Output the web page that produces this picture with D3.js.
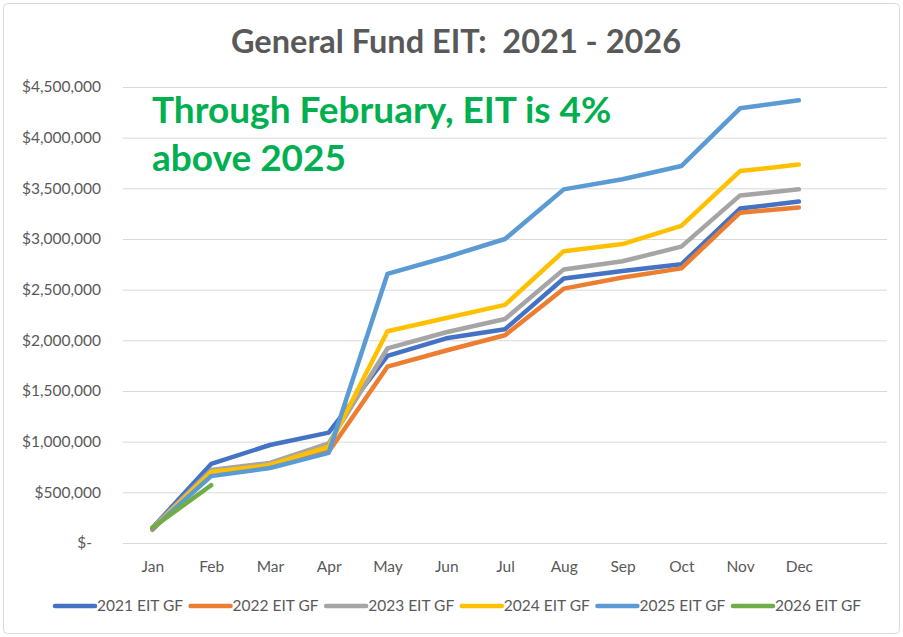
<!DOCTYPE html>
<html>
<head>
    <meta charset="UTF-8" />
    <script src="https://d3js.org/d3.v7.min.js"></script>
    <style>
        body { margin: 0; background: white; }
        text { font-family: Lato, "Open Sans", sans-serif; white-space: pre; }
        .gridlines line { stroke: #d9d9d9; }
        .gridlines .domain { stroke: none; }
        .axis text { fill: #595959; font-size: 15.5px; }
        .axis .domain, .axis line { stroke: none; }
    </style>
</head>
<body>
    <svg height="637" width="903" id="svg1"></svg>
    <script>
        // data
        const months = ["Jan","Feb","Mar","Apr","May","Jun","Jul","Aug","Sep","Oct","Nov","Dec"];
        const slots = months.concat([""]);   // excel left one empty slot at the right
        const years = ["2021 EIT GF","2022 EIT GF","2023 EIT GF","2024 EIT GF","2025 EIT GF","2026 EIT GF"];
        const colors = ["#4472C4","#ED7D31","#A5A5A5","#FFC000","#5B9BD5","#70AD47"];
        const eit2021 = [148000, 780000, 967000, 1089000, 1846000, 2020000, 2110000, 2610000, 2685000, 2750000, 3300000, 3370000];
        const eit2022 = [130000, 700000, 780000, 900000, 1740000, 1900000, 2050000, 2510000, 2620000, 2710000, 3260000, 3310000];
        const eit2023 = [150000, 720000, 790000, 984000, 1920000, 2080000, 2210000, 2700000, 2780000, 2925000, 3430000, 3490000];
        const eit2024 = [140000, 700000, 770000, 950000, 2090000, 2220000, 2350000, 2880000, 2950000, 3130000, 3670000, 3735000];
        const eit2025 = [140000, 660000, 740000, 890000, 2655000, 2820000, 3000000, 3490000, 3590000, 3720000, 4290000, 4370000];
        const eit2026 = [150000, 570000];
        const yTicks = [0, 500000, 1000000, 1500000, 2000000, 2500000, 3000000, 3500000, 4000000, 4500000];

        const allSeries = [eit2021, eit2022, eit2023, eit2024, eit2025, eit2026];

        const svg1 = d3.select('svg#svg1');
        const margin = {top: 87, right: 16, bottom: 94, left: 123};
        const width = +svg1.attr("width");
        const height = +svg1.attr("height");

        // border
        svg1.append("rect")
            .attr("x", 3.5).attr("y", 3.5)
            .attr("width", width - 7).attr("height", height - 7)
            .attr("rx", 4)
            .style("fill", "white").style("stroke", "#d9d9d9");

        const xScale = d3.scalePoint().domain(slots)
                         .range([margin.left, width - margin.right]).padding(0.5);
        const yScale = d3.scaleLinear().domain([0, 4500000])
                         .range([height - margin.bottom, margin.top]);

        const fmt = d => d === 0 ? "$-" : "$" + d3.format(",")(d);

        // gridlines
        svg1.append("g").attr("class", "gridlines")
            .attr("transform", "translate(" + margin.left + ",0)")
            .call(d3.axisLeft(yScale).tickValues(yTicks).tickSize(-(width - margin.right - margin.left)).tickFormat(""));

        // y axis
        let yAxis = svg1.append("g").attr("class", "axis")
            .attr("transform", "translate(" + (margin.left - 19) + ",0)")
            .call(d3.axisLeft(yScale).tickValues(yTicks).tickFormat(fmt).tickSize(0));
        yAxis.selectAll("text").filter(d => d === 0).attr("dx", "-9");

        // x axis
        svg1.append("g").attr("class", "axis")
            .attr("transform", "translate(0," + (height - margin.bottom + 15) + ")")
            .call(d3.axisBottom(xScale).tickSize(0));

        // lines
        const lineGen = d3.line()
            .x((d, i) => xScale(months[i]))
            .y(d => yScale(d));

        svg1.append("g").selectAll("path").data(allSeries)
            .join("path")
            .attr("d", d => lineGen(d))
            .style("fill", "none")
            .style("stroke", (d, i) => colors[i])
            .style("stroke-width", 4.5)
            .style("stroke-linejoin", "round")
            .style("stroke-linecap", "round");

        // title
        svg1.append("text")
            .attr("x", 456).attr("y", 53)
            .attr("text-anchor", "middle")
            .style("font-size", "32.5px").style("font-weight", "bold").style("fill", "#595959")
            .text("General Fund EIT:  2021 - 2026");

        // note
        const note = svg1.append("text")
            .style("font-size", "37px").style("font-weight", "bold").style("fill", "#00B050");
        note.append("tspan").attr("x", 152).attr("y", 123).text("Through February, EIT is 4%");
        note.append("tspan").attr("x", 152).attr("y", 171).text("above 2025");

        // legend
        const legend = svg1.append("g").selectAll("g").data(years)
            .join("g")
            .attr("transform", (d, i) => "translate(" + (55 + i * 135.6) + ",606)");
        legend.append("line")
            .attr("x1", 0).attr("x2", 40)
            .style("stroke", (d, i) => colors[i])
            .style("stroke-width", 4.5)
            .style("stroke-linecap", "round");
        legend.append("text")
            .attr("x", 42).attr("dy", "0.35em")
            .style("font-size", "15.5px").style("fill", "#595959")
            .text(d => d);
    </script>
</body>
</html>
